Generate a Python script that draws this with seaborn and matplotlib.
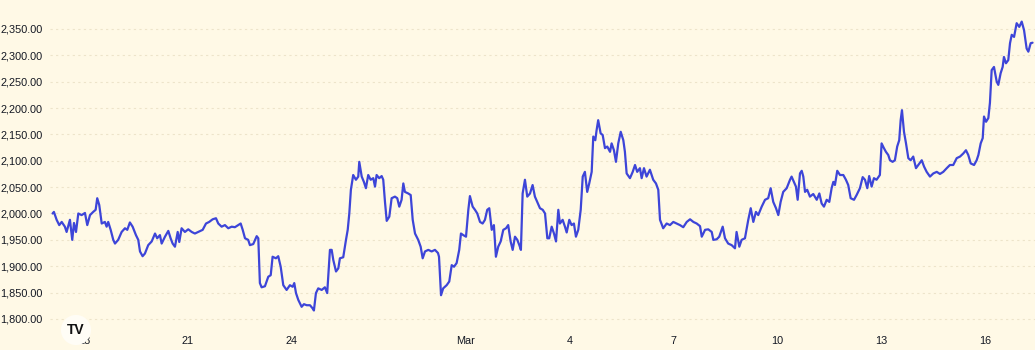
import numpy as np
import pandas as pd
import matplotlib
matplotlib.use("Agg")
import matplotlib.pyplot as plt
import matplotlib.ticker as mticker
import matplotlib.dates as mdates
import seaborn as sns

# ---- data (hours relative to 2023-02-18 00:00, price) ----
hours_from_feb18 = [-21.7,-20.8,-18.9,-17.1,-15.4,-13.2,-12.0,-9.7,-8.1,-6.9,-5.5,-3.9,-1.6,0.7,2.3,4.2,6.4,8.1,9.2,10.6,12.3,14.5,15.7,16.8,18.5,20.3,21.5,23.7,26.1,28.4,30.0,31.8,33.7,36.0,37.6,38.8,40.6,42.2,44.5,46.9,49.2,50.7,52.6,53.8,56.1,58.4,60.0,61.4,63.0,64.9,66.0,67.6,69.9,72.2,74.6,76.8,79.1,82.2,84.5,86.7,89.1,91.4,93.0,95.3,97.6,99.9,102.3,104.5,106.8,108.5,
    109.9,111.5,113.7,114.9,117.2,119.6,120.7,121.8,123.0,125.3,127.6,129.3,130.6,132.9,134.5,136.2,138.0,140.3,142.6,144.5,145.6,146.8,148.4,150.7,152.3,154.2,156.5,158.3,159.2,160.6,162.2,164.6,166.8,168.4,170.3,171.5,172.6,174.5,176.1,177.2,179.5,181.4,182.6,183.7,184.8,186.4,188.3,189.9,190.6,192.3,193.8,195.2,196.8,198.5,200.3,201.5,202.6,204.4,206.1,207.2,208.4,209.6,211.4,213.0,215.3,216.9,218.3,219.9,221.1,222.2,224.5,226.2,227.6,229.2,231.4,233.1,234.5,236.1,238.4,240.7,243.0,245.1,245.8,247.2,248.7,251.1,252.9,254.6,256.2,258.0,259.8,261.0,262.6,264.5,266.1,267.2,269.1,270.7,272.3,274.2,276.0,277.6,279.2,280.6,282.3,283.8,285.2,286.8,288.5,290.3,292.2,293.7,295.4,296.8,298.4,300.0,301.4,302.5,303.7,305.3,306.9,308.8,310.6,312.2,313.8,315.7,317.6,319.2,320.8,322.1,323.8,325.4,326.8,328.4,329.5,331.4,333.0,334.2,336.0,337.6,339.2,340.6,342.2,343.9,345.3,346.8,348.4,349.8,351.5,352.6,354.0,354.9,356.0,357.7,359.1,360.7,362.3,364.2,365.3,366.9,368.3,369.9,371.6,373.4,374.5,375.7,378.0,379.9,381.5,383.0,384.9,386.1,387.7,389.5,391.8,394.1,396.0,397.6,398.8,401.0,403.4,405.7,408.0,410.3,412.6,414.9,417.3,419.6,421.9,424.2,426.5,427.7,430.0,432.2,434.6,435.7,438.0,439.8,442.2,443.8,446.0,448.4,450.7,451.8,453.7,455.3,457.6,459.9,461.6,463.4,465.2,466.8,469.2,471.5,473.7,475.4,477.2,479.1,480.7,482.3,484.1,486.5,488.8,489.9,491.5,492.9,494.1,495.7,496.9,498.0,499.2,500.7,502.6,504.9,507.3,509.1,510.7,512.3,514.2,516.0,517.6,518.8,519.9,521.5,523.4,525.7,527.5,529.1,530.8,533.1,534.9,537.2,539.1,540.7,542.3,543.6,545.3,546.9,548.7,551.0,552.2,553.8,555.2,556.8,558.0,559.8,561.4,563.0,564.4,565.4,566.3,567.7,569.1,570.7,572.3,574.1,576.0,577.6,580.0,581.6,583.4,585.7,588.0,590.4,592.6,594.9,597.3,599.5,601.8,604.2,606.5,608.8,610.6,612.2,613.9,616.2,618.0,619.2,620.8,622.2,623.1,624.5,626.1,627.2,628.4,630.0,631.9,633.0,634.6,636.0,636.9,638.3,639.9,641.1,642.3,643.9,645.7,647.5,649.2,650.8,652.6,653.8,655.4,656.7]

price = [2000,2003,1988,1978,1984,1975,1965,1988,1950,1982,1965,2000,1997,2001,1978,1997,2003,2007,2029,2016,1981,1984,1975,1984,1969,1950,1943,1950,1965,1972,1969,1983,1975,1959,1950,1928,1919,1924,1940,1947,1962,1953,1959,1943,1956,1967,1953,1943,1937,1965,1946,1972,1965,1970,1965,1962,1965,1969,1981,1984,1989,1991,1981,1975,1978,1972,1975,1974,1978,1981,
    1969,1953,1950,1940,1942,1957,1953,1868,1860,1862,1880,1883,1918,1915,1919,1899,1864,1855,1864,1861,1868,1849,1836,1823,1828,1826,1826,1820,1816,1849,1858,1855,1860,1849,1931,1931,1912,1890,1896,1915,1917,1950,1969,2000,2045,2073,2064,2070,2098,2070,2060,2048,2073,2064,2067,2051,2073,2067,2071,2064,2022,1986,1994,2029,2032,2029,2013,2026,2057,2041,2038,2035,1988,1962,1950,1937,1915,1928,1931,1928,1931,1925,1918,1845,1858,1864,1871,1902,1899,1906,1931,1962,1959,1956,2007,2033,2013,2007,2000,1984,1981,1988,2007,2010,1969,1978,1918,1937,1947,1969,1972,1978,1947,1931,1956,1950,1940,1931,2038,2064,2032,2038,2054,2032,2022,2010,2007,2000,1953,1953,1975,1962,1947,2007,1981,1988,1975,1964,1988,1978,1981,1956,1969,2007,2070,2079,2041,2057,2079,2146,2139,2158,2177,2152,2149,2124,2127,2117,2133,2120,2098,2133,2155,2139,2117,2076,2067,2079,2092,2079,2086,2067,2086,2070,2083,2064,2057,2045,1988,1972,1981,1978,1984,1981,1978,1974,1984,1989,1984,1981,1976,1956,1969,1970,1965,1950,1951,1956,1975,1953,1943,1940,1934,1965,1937,1950,1953,1988,2010,1984,2003,1997,2013,2026,2029,2048,2022,2010,1997,2022,2041,2048,2064,2070,2060,2051,2026,2076,2081,2070,2041,2045,2032,2037,2026,2038,2019,2013,2026,2022,2048,2060,2054,2081,2073,2073,2064,2054,2029,2026,2035,2048,2069,2064,2048,2071,2051,2067,2064,2073,2133,2124,2117,2111,2101,2098,2101,2127,2139,2177,2196,2155,2133,2105,2101,2108,2086,2092,2101,2089,2079,2070,2076,2079,2075,2079,2086,2092,2092,2105,2108,2114,2120,2111,2095,2092,2101,2111,2133,2143,2184,2174,2181,2210,2272,2278,2250,2244,2266,2278,2297,2285,2291,2323,2339,2335,2361,2354,2364,2348,2313,2307,2323,2324]

y_ticks = [1800, 1850, 1900, 1950, 2000, 2050, 2100, 2150, 2200, 2250, 2300, 2350]
x_tick_dates = ["2023-02-18", "2023-02-21", "2023-02-24", "2023-03-01", "2023-03-04",
                "2023-03-07", "2023-03-10", "2023-03-13", "2023-03-16"]
x_tick_labels = ["18", "21", "24", "Mar", "4", "7", "10", "13", "16"]

if len(hours_from_feb18) != len(price):
    raise SystemExit(f"length mismatch {len(hours_from_feb18)} vs {len(price)}")

base = pd.Timestamp("2023-02-18")
df = pd.DataFrame({
    "time": base + pd.to_timedelta(hours_from_feb18, unit="h"),
    "price": price,
})

BG = "#FFF9E6"
LINE = "#3D45D8"
TXT = "#131722"

sns.set_theme(style="white")
plt.rcParams["font.family"] = ["Liberation Sans", "DejaVu Sans"]

fig = plt.figure(figsize=(10.35, 3.5), dpi=100, facecolor=BG)
ax = fig.add_axes([50 / 1035, 20 / 350, 985 / 1035, 330 / 350])
ax.set_facecolor(BG)

sns.lineplot(data=df, x="time", y="price", ax=ax, color=LINE, linewidth=1.6,
             estimator=None, sort=False)

ax.set_ylim(1779, 2405)
ax.set_xlim(base + pd.Timedelta(hours=-23.5), base + pd.Timedelta(hours=658.4))

ax.set_yticks(y_ticks)
ax.yaxis.set_major_formatter(mticker.FuncFormatter(lambda v, p: f"{v:,.2f}"))
ax.set_xticks(pd.to_datetime(x_tick_dates))
ax.set_xticklabels(x_tick_labels)

for s in ax.spines.values():
    s.set_visible(False)
ax.tick_params(axis="y", length=0, pad=5.3, labelsize=7.8, labelcolor=TXT)
ax.tick_params(axis="x", length=0, pad=4, labelsize=7.8, labelcolor=TXT)
ax.set_xlabel("")
ax.set_ylabel("")
ax.grid(False)
ax.yaxis.grid(True, color="#EDE4CA", linestyle=(0, (2, 3)), linewidth=0.8)
ax.set_axisbelow(True)

# TradingView-style badge over the first date label
fig.text(76 / 1035, 1 - 330 / 350, "TV", ha="center", va="center",
         fontsize=10, fontweight="heavy", color="#111111", zorder=10,
         bbox=dict(boxstyle="circle,pad=0.45", facecolor="#FFFDF6", edgecolor="none"))

fig.savefig("out.png", dpi=100, facecolor=BG)
